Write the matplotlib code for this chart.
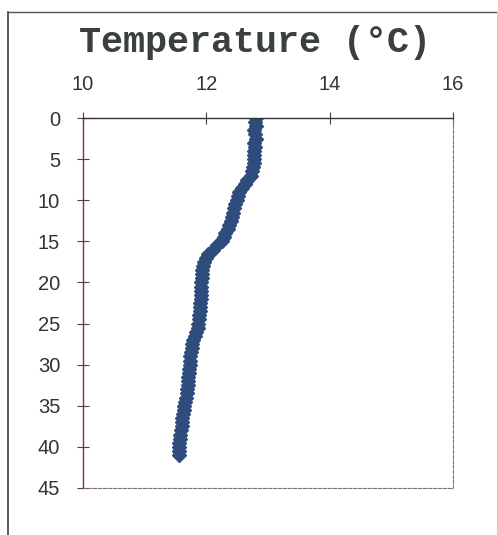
import matplotlib
matplotlib.use('Agg')
import numpy as np
import matplotlib.pyplot as plt
from matplotlib.lines import Line2D

# temperature profile, one reading every half metre
depth = np.arange(0, 41.5, 0.5)
temp = [12.80, 12.79, 12.80, 12.78, 12.79, 12.80, 12.78, 12.79, 12.78, 12.77,
        12.78, 12.77, 12.76, 12.74, 12.72, 12.66, 12.62, 12.57, 12.53, 12.51,
        12.50, 12.47, 12.45, 12.44, 12.42, 12.40, 12.37, 12.35, 12.31, 12.28,
        12.25, 12.18, 12.10, 12.03, 11.99, 11.96, 11.94, 11.93, 11.93, 11.93,
        11.92, 11.92, 11.92, 11.91, 11.91, 11.90, 11.90, 11.89, 11.88, 11.88,
        11.87, 11.86, 11.84, 11.82, 11.79, 11.77, 11.76, 11.75, 11.74, 11.73,
        11.73, 11.72, 11.72, 11.71, 11.70, 11.70, 11.69, 11.68, 11.67, 11.66,
        11.64, 11.63, 11.62, 11.61, 11.61, 11.60, 11.59, 11.58, 11.57, 11.56,
        11.56, 11.55, 11.55]

xticks = [10, 12, 14, 16]
yticks = [0, 5, 10, 15, 20, 25, 30, 35, 40, 45]

fig = plt.figure(figsize=(4.98, 5.35), dpi=100)
ax = fig.add_axes([0.1667, 0.0879, 0.743, 0.6915])

ax.plot(temp, depth, linestyle='none', marker='D', markersize=7.5,
        color='#2e4d7d', markeredgecolor='#2e4d7d')

ax.set_xlim(10, 16)
ax.set_ylim(45, 0)
ax.set_xticks(xticks)
ax.set_yticks(yticks)
ax.xaxis.tick_top()
ax.tick_params(axis='x', direction='inout', length=9, width=0.8, pad=13,
               labelsize=14.5, labelcolor='#333333', color='#444444')
ax.tick_params(axis='y', direction='inout', length=9, width=0.8, pad=12,
               labelsize=14.5, labelcolor='#333333', color='#444444')
for lab in ax.get_xticklabels() + ax.get_yticklabels():
    lab.set_family('Liberation Sans')

ax.spines['top'].set_color('#333333')
ax.spines['top'].set_linewidth(1.0)
ax.spines['left'].set_color('#8a2a3c')
ax.spines['left'].set_linewidth(1.0)
for s in ('right', 'bottom'):
    ax.spines[s].set_color('#777777')
    ax.spines[s].set_linewidth(0.8)
    ax.spines[s].set_linestyle((0, (3, 1.5)))

fig.text(0.512, 0.921, 'Temperature (\u00b0C)', ha='center', va='center',
         family='Liberation Mono', weight='bold', fontsize=26.5,
         color='#3a403c')

# page border
fig.add_artist(Line2D([0.016, 0.016], [0.0, 0.977], color='#4a3a3a', lw=1.2))
fig.add_artist(Line2D([0.016, 1.0], [0.977, 0.977], color='#555555', lw=1.0))
fig.add_artist(Line2D([0.997, 0.997], [0.0, 0.977], color='#cccccc', lw=0.8))

fig.savefig('out.png', dpi=100)
